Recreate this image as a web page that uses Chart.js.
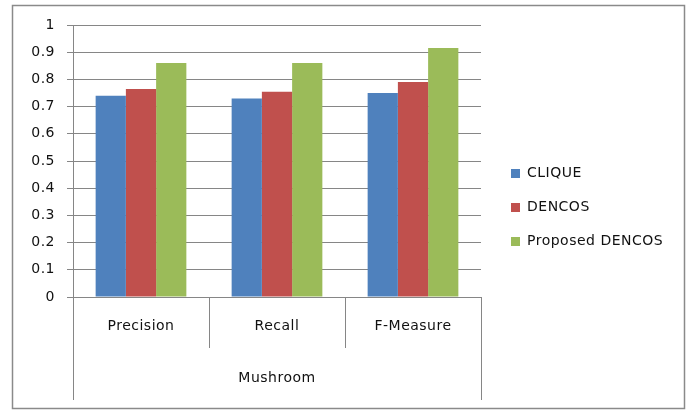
<!DOCTYPE html>
<html>
<head>
<meta charset="utf-8">
<script src="https://cdn.jsdelivr.net/npm/chart.js@4.4.1/dist/chart.umd.min.js"></script>
<style>
  html, body { margin: 0; padding: 0; background: #ffffff; }
  #wrap { position: relative; width: 689px; height: 410px; }
</style>
</head>
<body>
<div id="wrap"><canvas id="chart" width="689" height="410"></canvas></div>
<script>
// Measures on the x axis, and the dataset they belong to
const categories = ['Precision', 'Recall', 'F-Measure'];
const groupLabels = ['Mushroom'];

// Series
const seriesNames = ['CLIQUE', 'DENCOS', 'Proposed DENCOS'];
const cliqueValues = [0.74, 0.73, 0.75];
const dencosValues = [0.765, 0.755, 0.79];
const proposedValues = [0.86, 0.86, 0.915];

// Value axis tick labels
const yTickLabels = ['0', '0.1', '0.2', '0.3', '0.4', '0.5', '0.6', '0.7', '0.8', '0.9', '1'];

const GRID = '#868686';
const TEXT = '#111111';

Chart.defaults.font.family = '"DejaVu Sans", sans-serif';
Chart.defaults.font.size = 14;
Chart.defaults.color = TEXT;

// White background, frame around the whole figure, slightly spaced lettering
const frame = {
  id: 'frame',
  beforeDraw(chart) {
    const ctx = chart.ctx;
    ctx.save();
    ctx.fillStyle = '#ffffff';
    ctx.fillRect(0, 0, chart.width, chart.height);
    ctx.strokeStyle = '#8a8a8a';
    ctx.lineWidth = 1.5;
    ctx.strokeRect(12.5, 5.5, 672, 403);
    ctx.restore();
    ctx.letterSpacing = '0.5px';
  }
};

// Legend drawn as a column to the right of the plot
const sideLegend = {
  id: 'sideLegend',
  afterDraw(chart) {
    const ctx = chart.ctx;
    const area = chart.chartArea;
    const x = area.right + 30;
    const cy = chart.height / 2 + 2;
    ctx.save();
    ctx.font = '14px "DejaVu Sans", sans-serif';
    ctx.textBaseline = 'middle';
    ctx.textAlign = 'left';
    chart.data.datasets.forEach((ds, i) => {
      const y = cy + (i - 1) * 34;
      ctx.fillStyle = ds.backgroundColor;
      ctx.fillRect(x, Math.round(y - 4.5), 9, 9);
      ctx.fillStyle = TEXT;
      ctx.fillText(ds.label, x + 16, y + 0.5);
    });
    ctx.restore();
  }
};

new Chart(document.getElementById('chart'), {
  type: 'bar',
  data: {
    labels: categories,
    datasets: [
      { label: seriesNames[0], data: cliqueValues, backgroundColor: '#4F81BD' },
      { label: seriesNames[1], data: dencosValues, backgroundColor: '#C0504D' },
      { label: seriesNames[2], data: proposedValues, backgroundColor: '#9BBB59' }
    ]
  },
  options: {
    responsive: false,
    animation: false,
    devicePixelRatio: 1,
    layout: { padding: { left: 0, top: 25, right: 208, bottom: 0 } },
    datasets: { bar: { categoryPercentage: 0.667, barPercentage: 1.0 } },
    plugins: {
      legend: { display: false },
      tooltip: { enabled: false }
    },
    scales: {
      y: {
        min: 0,
        max: 1,
        ticks: {
          stepSize: 0.1,
          padding: 12,
          callback: (v, i) => yTickLabels[i]
        },
        grid: { color: GRID, lineWidth: 1, tickLength: 6 },
        border: { color: GRID, width: 1 },
        afterFit(scale) { scale.width = 73; }
      },
      x: {
        type: 'category',
        position: 'bottom',
        weight: 0,
        offset: true,
        grid: { offset: true, drawOnChartArea: false, tickLength: 51, color: GRID },
        border: { color: GRID, width: 1 },
        ticks: { padding: -30, maxRotation: 0 },
        afterFit(scale) { scale.height = 51; }
      },
      x2: {
        type: 'category',
        position: 'bottom',
        weight: 1,
        labels: groupLabels,
        offset: true,
        grid: { offset: true, drawOnChartArea: false, tickLength: 52, color: GRID },
        border: { display: false },
        ticks: { padding: -30, maxRotation: 0 },
        afterFit(scale) { scale.height = 62; }
      }
    }
  },
  plugins: [frame, sideLegend]
});
</script>
</body>
</html>
